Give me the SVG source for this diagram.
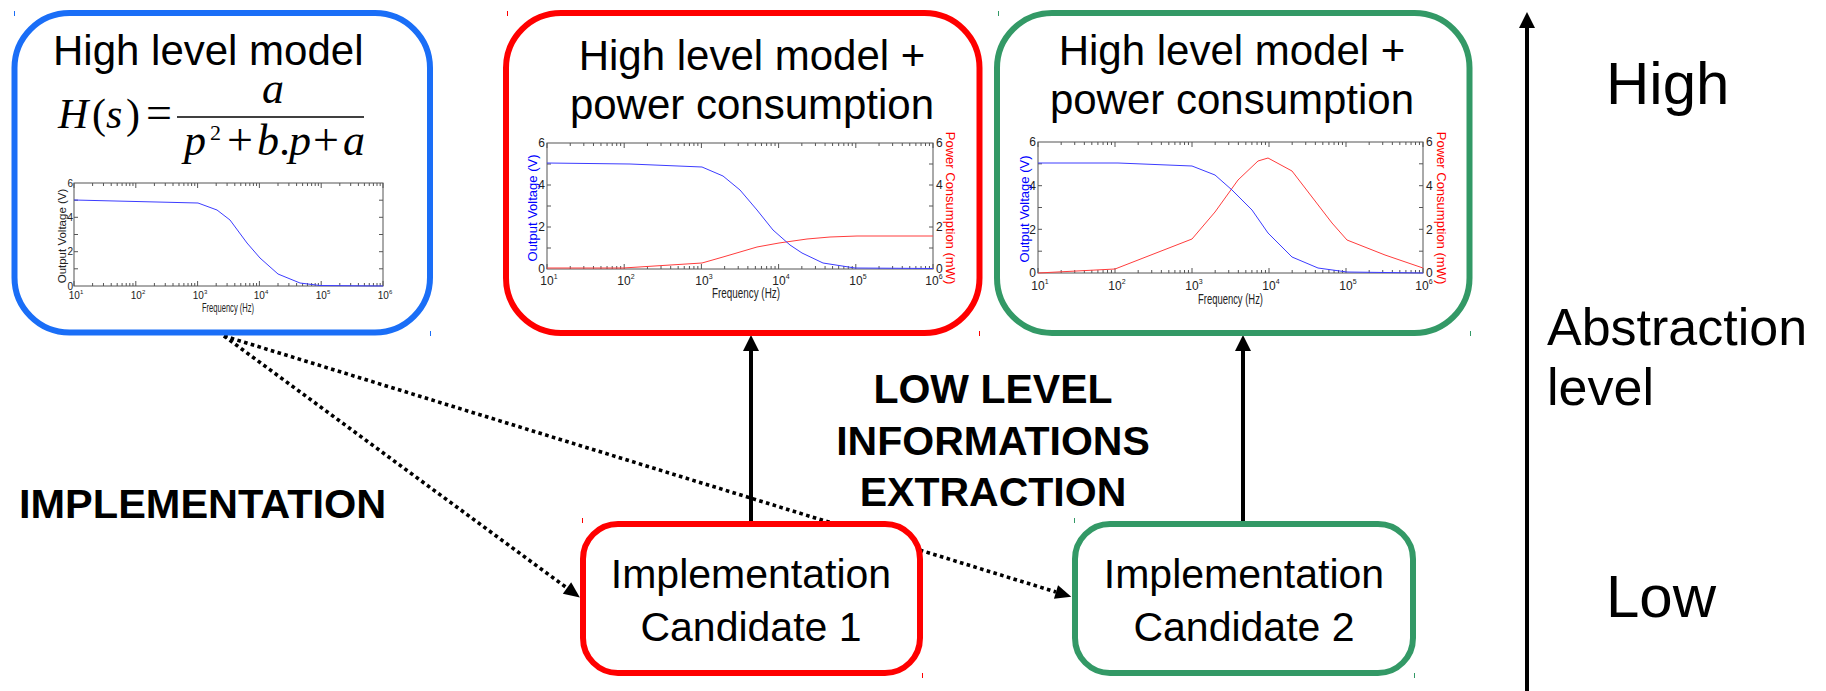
<svg xmlns="http://www.w3.org/2000/svg" xmlns:xlink="http://www.w3.org/1999/xlink" width="1826" height="691" viewBox="0 0 1826 691">
<style>
.t{font-family:"Liberation Sans",Arial,sans-serif;fill:#000}
.b{font-weight:bold}
.eq{font-family:"Liberation Serif","Times New Roman",serif;fill:#000}
.i{font-style:italic}
.node{fill:#fff;stroke-width:6}
.blue{stroke:#1a6ef7}
.red{stroke:#ff0000}
.green{stroke:#339966}
.ax{fill:none;stroke:#555;stroke-width:1}
.tk{fill:none;stroke:#555;stroke-width:1;vector-effect:non-scaling-stroke}
.tl{font-family:"Liberation Sans",Arial,sans-serif;font-size:12px;fill:#222}
.cb{fill:none;stroke:#3c3cff;stroke-width:1}
.cr{fill:none;stroke:#ff3c3c;stroke-width:1}
.conn{fill:none;stroke:#000;stroke-width:4}
.dot{fill:none;stroke:#000;stroke-width:3.6;stroke-dasharray:3.6 3.4}
</style>
<defs>
<marker id="ah" markerUnits="userSpaceOnUse" markerWidth="20" markerHeight="20" refX="0" refY="8" orient="auto" overflow="visible">
<path d="M0,0 L16,8 L0,16 z" fill="#000"/>
</marker>
<marker id="ahs" markerUnits="userSpaceOnUse" markerWidth="20" markerHeight="20" refX="0" refY="7" orient="auto" overflow="visible">
<path d="M0,0 L16,7 L0,14 z" fill="#000"/>
</marker>
<path id="xt" class="tk" d="M0,0V5M1,0V5M2,0V5M3,0V5M4,0V5M5,0V5
M.301,0V3M.477,0V3M.602,0V3M.699,0V3M.778,0V3M.845,0V3M.903,0V3M.954,0V3
M1.301,0V3M1.477,0V3M1.602,0V3M1.699,0V3M1.778,0V3M1.845,0V3M1.903,0V3M1.954,0V3
M2.301,0V3M2.477,0V3M2.602,0V3M2.699,0V3M2.778,0V3M2.845,0V3M2.903,0V3M2.954,0V3
M3.301,0V3M3.477,0V3M3.602,0V3M3.699,0V3M3.778,0V3M3.845,0V3M3.903,0V3M3.954,0V3
M4.301,0V3M4.477,0V3M4.602,0V3M4.699,0V3M4.778,0V3M4.845,0V3M4.903,0V3M4.954,0V3"/>
</defs>
<rect width="1826" height="691" fill="#fff"/>

<g id="connectors">
<path class="dot" d="M224,336 L567,588" marker-end="url(#ahs)"/>
<path class="dot" d="M224,336 L1056,592" marker-end="url(#ahs)"/>
<path class="conn" d="M751,522 L751,351" marker-end="url(#ah)"/>
<path class="conn" d="M1243,522 L1243,351" marker-end="url(#ah)"/>
<path class="conn" d="M1527,691 L1527,28" marker-end="url(#ah)"/>
</g>

<g id="node-high-level-model">
<rect class="node blue" x="14.5" y="13" width="415.5" height="319.5" rx="55"/>
<text class="t" x="53" y="65" font-size="42">High level model</text>
<g class="eq" font-size="42">
<text x="58" y="128" class="i">H</text>
<text x="92" y="128">(</text>
<text x="106" y="128" class="i">s</text>
<text x="126" y="128">)</text>
<text x="146" y="128" font-size="46">=</text>
<text x="262" y="103" class="i" font-size="44">a</text>
<text x="184" y="155" class="i" font-size="44">p</text>
<text x="210" y="140" font-size="22">2</text>
<text x="227" y="155" font-size="46">+</text>
<text x="257" y="155" class="i" font-size="44">b</text>
<text x="279" y="155" font-size="44">.</text>
<text x="289" y="155" class="i" font-size="44">p</text>
<text x="313" y="155" font-size="46">+</text>
<text x="343" y="155" class="i" font-size="44">a</text>
</g>
<line x1="177" y1="117" x2="364" y2="117" stroke="#000" stroke-width="1.6"/>
<g id="chart1">
<rect class="ax" x="74" y="183" width="309" height="103"/>
<use xlink:href="#xt" transform="translate(74,286) scale(61.8,-1)"/>
<use xlink:href="#xt" transform="translate(74,183) scale(61.8,1)"/>
<path class="ax" d="M74,268.8h4M74,251.7h4M74,234.5h4M74,217.3h4M74,200.2h4M383,268.8h-4M383,251.7h-4M383,234.5h-4M383,217.3h-4M383,200.2h-4"/>
<polyline class="cb" points="74,200 198,203 217,210 230,220 247,243 260,258 278,274 300,283 320,285.5 383,286"/>
<g class="tl" text-anchor="end" style="font-size:10px">
<text x="73" y="289.5">0</text>
<text x="73" y="255">2</text>
<text x="73" y="221">4</text>
<text x="73" y="186.5">6</text>
</g>
<g class="tl" text-anchor="middle" style="font-size:10px">
<text x="76" y="299">10<tspan dy="-5" font-size="6">1</tspan></text>
<text x="138" y="299">10<tspan dy="-5" font-size="6">2</tspan></text>
<text x="200" y="299">10<tspan dy="-5" font-size="6">3</tspan></text>
<text x="261" y="299">10<tspan dy="-5" font-size="6">4</tspan></text>
<text x="323" y="299">10<tspan dy="-5" font-size="6">5</tspan></text>
<text x="385" y="299">10<tspan dy="-5" font-size="6">6</tspan></text>
</g>
<text class="tl" x="202" y="312" style="font-size:12px" textLength="52" lengthAdjust="spacingAndGlyphs">Frequency (Hz)</text>
<text class="tl" transform="translate(66,236) rotate(-90)" text-anchor="middle" style="font-size:11.5px">Output Voltage (V)</text>
</g>
</g>

<g id="node-hl-power-1">
<rect class="node red" x="506" y="13" width="473.5" height="320" rx="55"/>
<text class="t" x="752" y="70" font-size="42" text-anchor="middle">High level model +</text>
<text class="t" x="752" y="119" font-size="42" text-anchor="middle">power consumption</text>
<g id="chart2">
<rect class="ax" x="547" y="143" width="386" height="126"/>
<use xlink:href="#xt" transform="translate(547,269) scale(77.2,-1)"/>
<use xlink:href="#xt" transform="translate(547,143) scale(77.2,1)"/>
<path class="ax" d="M547,248h4M547,227h4M547,206h4M547,185h4M547,164h4M933,248h-4M933,227h-4M933,206h-4M933,185h-4M933,164h-4"/>
<polyline class="cr" points="547,268 623,268 702,263 723,257 757,247 779,243 807,239 830,237 857,236 933,236"/>
<polyline class="cb" points="547,163 630,164 702,167 723,176 740,190 757,210 773,230 790,245 802,253 823,263 855,268 933,268.5"/>
<g class="tl" text-anchor="end">
<text x="545" y="273">0</text><text x="545" y="231">2</text><text x="545" y="189">4</text><text x="545" y="147">6</text>
</g>
<g class="tl">
<text x="936" y="273">0</text><text x="936" y="231">2</text><text x="936" y="189">4</text><text x="936" y="147">6</text>
</g>
<g class="tl" text-anchor="middle">
<text x="549" y="285">10<tspan dy="-6" font-size="7">1</tspan></text>
<text x="626" y="285">10<tspan dy="-6" font-size="7">2</tspan></text>
<text x="704" y="285">10<tspan dy="-6" font-size="7">3</tspan></text>
<text x="781" y="285">10<tspan dy="-6" font-size="7">4</tspan></text>
<text x="858" y="285">10<tspan dy="-6" font-size="7">5</tspan></text>
<text x="934" y="285">10<tspan dy="-6" font-size="7">6</tspan></text>
</g>
<text class="tl" x="712" y="298" style="font-size:14px" textLength="68" lengthAdjust="spacingAndGlyphs">Frequency (Hz)</text>
<text class="tl" transform="translate(537,208) rotate(-90)" text-anchor="middle" style="font-size:13px;fill:#0000ff">Output Voltage (V)</text>
<text class="tl" transform="translate(946,208) rotate(90)" text-anchor="middle" style="font-size:13px;fill:#ff0000">Power Consumption (mW)</text>
</g>
</g>

<g id="node-hl-power-2">
<rect class="node green" x="997" y="13" width="472.5" height="320" rx="55"/>
<text class="t" x="1232" y="65" font-size="42" text-anchor="middle">High level model +</text>
<text class="t" x="1232" y="114" font-size="42" text-anchor="middle">power consumption</text>
<g id="chart3">
<rect class="ax" x="1038" y="142" width="385" height="131"/>
<use xlink:href="#xt" transform="translate(1038,273) scale(77,-1)"/>
<use xlink:href="#xt" transform="translate(1038,142) scale(77,1)"/>
<path class="ax" d="M1038,251.2h4M1038,229.3h4M1038,207.5h4M1038,185.7h4M1038,163.8h4M1423,251.2h-4M1423,229.3h-4M1423,207.5h-4M1423,185.7h-4M1423,163.8h-4"/>
<polyline class="cr" points="1038,273 1115,269 1192,239 1215,212 1238,180 1258,161 1268,158 1292,171 1332,223 1347,240 1385,255 1423,268"/>
<polyline class="cb" points="1038,163 1118,163 1192,166 1215,175 1232,190 1252,210 1268,233 1292,257 1318,268 1347,272 1423,273"/>
<g class="tl" text-anchor="end">
<text x="1036" y="277">0</text><text x="1036" y="233.5">2</text><text x="1036" y="190">4</text><text x="1036" y="146">6</text>
</g>
<g class="tl">
<text x="1426" y="277">0</text><text x="1426" y="233.5">2</text><text x="1426" y="190">4</text><text x="1426" y="146">6</text>
</g>
<g class="tl" text-anchor="middle">
<text x="1040" y="290">10<tspan dy="-6" font-size="7">1</tspan></text>
<text x="1117" y="290">10<tspan dy="-6" font-size="7">2</tspan></text>
<text x="1194" y="290">10<tspan dy="-6" font-size="7">3</tspan></text>
<text x="1271" y="290">10<tspan dy="-6" font-size="7">4</tspan></text>
<text x="1348" y="290">10<tspan dy="-6" font-size="7">5</tspan></text>
<text x="1424" y="290">10<tspan dy="-6" font-size="7">6</tspan></text>
</g>
<text class="tl" x="1198" y="304" style="font-size:14px" textLength="65" lengthAdjust="spacingAndGlyphs">Frequency (Hz)</text>
<text class="tl" transform="translate(1029,209) rotate(-90)" text-anchor="middle" style="font-size:13px;fill:#0000ff">Output Voltage (V)</text>
<text class="tl" transform="translate(1437,208) rotate(90)" text-anchor="middle" style="font-size:13px;fill:#ff0000">Power Consumption (mW)</text>
</g>
</g>

<g id="node-candidate-1">
<rect class="node red" x="583" y="524" width="337" height="149" rx="35"/>
<text class="t" x="751" y="588" font-size="41" text-anchor="middle">Implementation</text>
<text class="t" x="751" y="641" font-size="41" text-anchor="middle">Candidate 1</text>
</g>

<g id="node-candidate-2">
<rect class="node green" x="1075" y="524" width="338" height="149" rx="35"/>
<text class="t" x="1244" y="588" font-size="41" text-anchor="middle">Implementation</text>
<text class="t" x="1244" y="641" font-size="41" text-anchor="middle">Candidate 2</text>
</g>

<g id="labels">
<text class="t b" x="19" y="518" font-size="41.5">IMPLEMENTATION</text>
<text class="t b" x="993" y="403" font-size="41" text-anchor="middle">LOW LEVEL</text>
<text class="t b" x="993" y="455" font-size="41" text-anchor="middle">INFORMATIONS</text>
<text class="t b" x="993" y="506" font-size="41" text-anchor="middle">EXTRACTION</text>
<text class="t" x="1606" y="104" font-size="60">High</text>
<text class="t" x="1547" y="345" font-size="52">Abstraction</text>
<text class="t" x="1547" y="405" font-size="52">level</text>
<text class="t" x="1606" y="617" font-size="60">Low</text>
</g>

<g id="handles">
<rect x="14" y="11" width="1" height="5" fill="#1a6ef7"/>
<rect x="430" y="331" width="1" height="5" fill="#1a6ef7"/>
<rect x="507" y="11" width="1" height="5" fill="#ff0000"/>
<rect x="979" y="331" width="1" height="5" fill="#ff0000"/>
<rect x="998" y="11" width="1" height="5" fill="#339966"/>
<rect x="1470" y="331" width="1" height="5" fill="#339966"/>
<rect x="582" y="518" width="1" height="5" fill="#ff0000"/>
<rect x="922" y="673" width="1" height="5" fill="#ff0000"/>
<rect x="1074" y="518" width="1" height="5" fill="#339966"/>
<rect x="1414" y="673" width="1" height="5" fill="#339966"/>
</g>
</svg>
